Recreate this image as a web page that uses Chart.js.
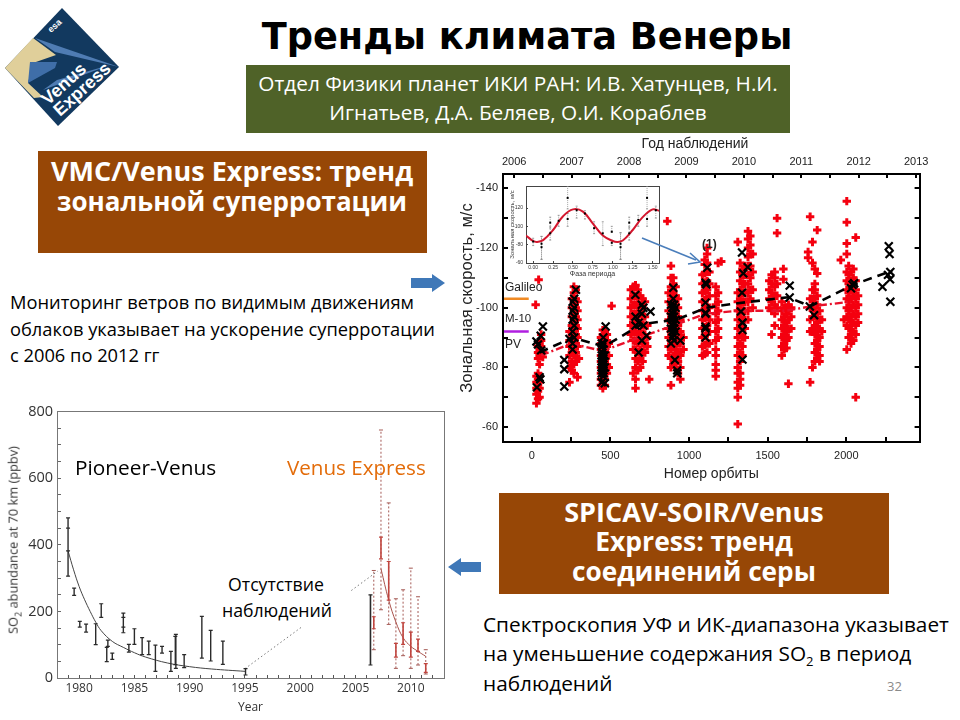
<!DOCTYPE html>
<html lang="ru">
<head>
<meta charset="utf-8">
<title>Тренды климата Венеры</title>
<script src="https://cdn.jsdelivr.net/npm/chart.js@4/dist/chart.umd.min.js"></script>
<style>
    html, body { margin: 0; padding: 0; background: #fff; }
    #slide { position: relative; width: 960px; height: 720px; overflow: hidden; font-family: "Open Sans", sans-serif; color: #000; }
    #slide canvas, #slide svg { position: absolute; }
    .line { position: absolute; white-space: nowrap; line-height: 1; }
    .box { position: absolute; }
    .mid { transform: translateX(-50%); }
    .turned { transform: translate(-50%, -50%) rotate(-90deg); }
    .brown { background: #974706; }
    .boxText { color: #fff; font-weight: 700; font-size: 27px; }
    .greenText { color: #fff; font-size: 20.8px; }
    .body { font-size: 18.3px; }
    .note { font-size: 20.8px; }
    .plotLabel { font-family: "Liberation Sans", sans-serif; font-size: 12px; color: #222; }
</style>
</head>
<body>
<div id="slide">
    <svg style="left:0;top:0" width="130" height="130" viewBox="0 0 130 130">
        <polygon points="5,68 62,8 119,67 58,126" fill="#12395f"/>
        <polygon points="5,68 33,38 56,55 33,63 28,83 43,97 34,98" fill="#e0cf9a"/>
        <polygon points="30,62 57,62 55,68 28,83" fill="#3f6ea8"/>
        <polygon points="35,38 119,67 55,52" fill="#4f7cb3"/>
        <polygon points="43,90 110,65 57,80" fill="#4f7cb3"/>
        <text transform="translate(51,33) rotate(-42)" font-family="Liberation Sans" font-weight="700" font-size="9" fill="#fff">esa</text>
        <text transform="translate(48,106) rotate(-42)" font-family="Liberation Sans" font-weight="700" font-size="18" fill="#fff">Venus</text>
        <text transform="translate(60,117) rotate(-42)" font-family="Liberation Sans" font-weight="700" font-size="18" fill="#fff">Express</text>
    </svg>

    <div class="line mid" style="left:527px;top:19px;font-family:'DejaVu Sans';font-weight:700;font-size:36.7px">Тренды климата Венеры</div>

    <div class="box" style="left:246px;top:65px;width:544px;height:68px;background:#4f6228"></div>
    <div class="line mid greenText" style="left:518px;top:73px">Отдел Физики планет ИКИ РАН: И.В. Хатунцев, Н.И.</div>
    <div class="line mid greenText" style="left:518px;top:102px">Игнатьев, Д.А. Беляев, О.И. Кораблев</div>

    <div class="box brown" style="left:38px;top:151px;width:389px;height:102px"></div>
    <div class="line mid boxText" style="left:232px;top:157px">VMC/Venus Express: тренд</div>
    <div class="line mid boxText" style="left:232px;top:188px;font-size:26px">зональной суперротации</div>

    <div class="box brown" style="left:499px;top:493px;width:390px;height:101px"></div>
    <div class="line mid boxText" style="left:694px;top:498px">SPICAV-SOIR/Venus</div>
    <div class="line mid boxText" style="left:694px;top:528px;font-size:26.5px">Express: тренд</div>
    <div class="line mid boxText" style="left:694px;top:558px;font-size:26.2px">соединений серы</div>

    <div class="line body" style="left:10px;top:293px">Мониторинг ветров по видимым движениям</div>
    <div class="line body" style="left:10px;top:320px">облаков указывает на ускорение суперротации</div>
    <div class="line body" style="left:10px;top:346px">с 2006 по 2012 гг</div>

    <div class="line note" style="left:483px;top:614px">Спектроскопия УФ и ИК-диапазона указывает</div>
    <div class="line note" style="left:483px;top:643px">на уменьшение содержания SO<sub style="font-size:13px;line-height:0">2</sub> в период</div>
    <div class="line note" style="left:483px;top:673px">наблюдений</div>
    <div class="line" style="left:887px;top:680px;font-size:13px;color:#8a8a8a">32</div>

    <!-- arrows between the panels -->
    <svg style="left:405px;top:268px" width="50" height="30">
        <polygon points="6,10 27,10 27,6 40,15 27,24 27,20 6,20" fill="#3f78b8"/>
    </svg>
    <svg style="left:440px;top:552px" width="50" height="30">
        <polygon points="41,10 21,10 21,6 8,15 21,24 21,20 41,20" fill="#3f78b8"/>
    </svg>

    <canvas id="so2Chart" width="445" height="320" style="left:5px;top:395px"></canvas>
    <div class="line turned" style="left:13px;top:540px;font-size:12.8px;color:#333">SO<sub style="font-size:9px;line-height:0">2</sub> abundance at 70 km (ppbv)</div>
    <div class="box" style="left:216px;top:569px;width:135px;height:58px;background:#fff"></div>
    <div class="line" style="left:75px;top:457px;font-size:20.8px">Pioneer-Venus</div>
    <div class="line" style="left:287px;top:457px;font-size:20.6px;color:#e36c0a">Venus Express</div>
    <div class="line mid" style="left:276px;top:576px;font-size:17.7px">Отсутствие</div>
    <div class="line mid" style="left:277px;top:602px;font-size:17.7px">наблюдений</div>

    <canvas id="windChart" width="480" height="348" style="left:458px;top:135px"></canvas>
    <div class="line mid" style="left:695px;top:136px;font-family:'Liberation Sans';font-size:14px;color:#222">Год наблюдений</div>
    <div class="line turned" style="left:467px;top:298px;font-family:'Liberation Sans';font-size:16.6px;color:#222">Зональная скорость, м/с</div>
    <canvas id="phaseChart" width="156" height="100" style="left:509px;top:178px"></canvas>
    <svg style="left:630px;top:225px" width="90" height="50">
        <line x1="12" y1="13" x2="66" y2="35" stroke="#4a7ebb" stroke-width="1.6"/>
        <polyline points="60,28 70,37 58,39" fill="none" stroke="#4a7ebb" stroke-width="1.6"/>
    </svg>
    <div class="line plotLabel" style="left:505px;top:281px">Galileo</div>
    <div class="line plotLabel" style="left:505px;top:313px;font-size:11.5px">M-10</div>
    <div class="line plotLabel" style="left:505px;top:338px">PV</div>
    <div class="line plotLabel" style="left:702px;top:238px;font-weight:700">(1)</div>
</div>

<script>
// SO2 abundance panel
const pvYears = [1979, 1979, 1979.55, 1980.06, 1980.63, 1981.5, 1982, 1982.5, 1982.6, 1983, 1984, 1984, 1984.5, 1985, 1985.7, 1986.3, 1986.9, 1987.5, 1988.3, 1988.7, 1988.75, 1989.5, 1991.1, 1991.9, 1993, 1995.05];
const pvHigh = [481, 450, 270, 170, 162, 163, 223, 92, 114, 75, 195, 182, 101, 148, 121, 111, 99, 95, 80, 125, 131, 70, 185, 143, 111, 28];
const pvLow = [306, 382, 248, 153, 138, 100, 182, 49, 95, 56, 136, 153, 78, 101, 70, 70, 20, 75, 20, 40, 29, 31, 60, 51, 41, 9];
const pvCurveYears = [1979, 1979.5, 1980, 1980.5, 1981, 1981.5, 1982, 1983, 1984, 1985, 1986, 1988, 1990, 1992, 1995];
const pvCurveValues = [382, 325, 275, 235, 200, 168, 142, 110, 92, 76, 63, 45, 34, 27, 20];
const gapYears = [1995, 2007];
const gapValues = [28, 321];

const blackBarYears = [2006.35];
const blackBarHigh = [250];
const blackBarLow = [39];
const vexYears = [2006.65, 2007.3, 2008, 2008.65, 2009.3, 2010, 2010.65, 2011.35];
const vexHigh = [184, 423, 350, 104, 166, 138, 117, 43];
const vexLow = [148, 358, 234, 63, 101, 63, 80, 17];
const vexRangeHigh = [323, 745, 526, 238, 265, 330, 244, 85];
const vexRangeLow = [85, 205, 161, 29, 67, 29, 39, 12];
const vexCurveYears = [2007.3, 2008, 2008.65, 2009.3, 2010, 2010.65, 2011.35];
const vexCurveValues = [328, 234, 168, 121, 95, 80, 65];

// Wind speed panel: red points are listed per orbit column
const redOrbits = [25, 44, 30, 40, 50, 60, 70,
    240, 255, 268, 280, 291, 300,
    440, 452, 465, 478, 490, 508,
    630, 645, 660, 675, 690, 705, 720, 735, 747,
    862, 870, 885, 900, 915, 930, 945, 965,
    1085, 1100, 1115, 1130, 1170, 1185, 1205,
    1310, 1325, 1340, 1355, 1375, 1390, 1405,
    1510, 1525, 1545, 1560, 1600,
    1590, 1605, 1620, 1632, 1650,
    1757, 1770, 1785, 1800, 1815, 1830, 1845,
    1965, 1985, 2003, 2015, 2030, 2045, 2060, 2075];
const redSpeeds = [
    [-101], [-109.4], [-68, -71, -73, -75, -77], [-69.5, -72, -74, -76, -78, -83, -85, -87], [-70, -73, -75, -77, -81, -84, -86, -88], [-84, -85.5, -87, -89, -91], [-83.5, -85],
    [-75, -80, -84, -87, -89, -92], [-79, -82, -85, -88, -91, -94, -97, -100, -103], [-78, -81, -84, -87, -90, -93, -96, -99, -102, -105, -107], [-82, -85, -88, -91, -94, -97, -100, -103, -106], [-76.7, -87, -90, -93, -96, -99, -102], [-83],
    [-74, -76, -78, -80, -82, -84, -86, -88, -90], [-73, -75, -77, -79, -81, -83, -85, -87, -89, -91, -92.5], [-74, -76, -78, -80, -82, -84, -86, -88, -90, -92], [-78, -81, -84, -87, -89, -91], [-80, -84, -88], [-100.6],
    [-91, -94, -97, -100, -103, -106], [-78, -86, -89, -92, -95, -98, -101, -104, -107], [-73, -76, -80, -83, -86, -89, -92, -95, -98, -101, -104, -107.5], [-79, -82, -85, -88, -91, -94, -97, -100, -103, -106], [-80, -83, -86, -89, -92, -95, -98, -101, -104], [-82, -85, -88, -91, -94, -97, -100, -103], [-85, -88, -91, -94, -97, -102], [-87, -90, -94], [-76],
    [-129], [-84, -87, -90, -93, -96, -99, -102, -105], [-74, -80, -83, -86, -89, -92, -95, -98, -101, -104, -107, -110, -114], [-81, -84, -87, -90, -93, -96, -99, -102, -105, -108, -110], [-80, -83, -86, -89, -92, -95, -98, -101, -104, -107], [-78, -82, -85, -88, -91, -94, -97, -100, -103], [-76, -80, -84, -88, -92, -96], [-86, -90],
    [-84, -87, -90, -93, -96, -99, -102, -105, -108, -111], [-84.5, -87.5, -90.5, -93.5, -96.5, -99.5, -102.5, -105.5, -108.5, -111.5, -114.5, -116], [-85, -88, -91, -94, -97, -100, -103, -106, -109, -112, -115, -118, -120], [-88, -92, -96, -100, -104, -108, -112], [-77, -79, -81, -84, -86, -89, -92, -95, -98, -101, -104, -107], [-90, -93, -96, -99, -102, -105, -115], [-115.5],
    [-61, -70, -73, -75, -78, -80, -84, -87, -90, -93, -96, -99, -102, -105, -122], [-74, -76, -78, -82, -85, -88, -91, -94, -97, -100, -103, -106, -109, -112, -115], [-84, -87, -90, -93, -96, -99, -102, -105, -108, -111, -113], [-90, -93, -96, -99, -102, -105, -108, -111, -114], [-96, -99, -102, -105, -108, -111, -114, -117, -120, -123, -125.6], [-103, -106, -110, -114, -118, -121, -124], [-100, -106, -112, -118],
    [-100, -103, -106, -109], [-91, -99, -102, -105, -108, -111], [-94, -98, -101, -104, -107, -110, -112], [-100, -104, -108, -125, -130], [-113, -109.5],
    [-84, -87, -90, -93, -96, -99, -102], [-86, -88, -91, -94, -97, -100], [-86.5, -89, -92, -95, -98, -100], [-74.5, -90, -93, -96, -99, -101], [-93, -97, -100],
    [-116.7, -118.7], [-75, -92, -96, -100, -103, -130.5], [-80, -93, -97, -100, -103, -106, -115, -122], [-82, -85, -88, -91, -94, -97, -100, -103, -106, -108, -113], [-83, -86, -89, -92, -95, -98, -101, -104, -111.5, -126], [-82, -84, -87, -90, -93, -96, -99], [-92, -96],
    [-116], [-96], [-86, -94, -97, -100, -103, -106, -109, -112, -118, -121.5, -128.6, -135.7], [-90, -93, -96, -99, -102, -105, -108, -111, -114], [-88, -91, -94, -97, -100, -103, -106, -109, -112], [-89, -92, -95, -98, -101, -104, -107, -110, -113], [-70, -91, -94, -97, -100, -103, -106, -109, -123.5], [-95, -98, -101, -104]
];
const blackOrbits = [30, 40, 57, 71, 60, 50, 55, 33,
    207, 207, 207, 240, 260, 260, 260, 260, 260, 260, 270, 270, 270, 270, 270, 281,
    445, 445, 445, 445, 445, 445, 455, 455, 455, 455, 455, 455, 465, 465, 465, 470,
    448, 448, 448, 448, 448, 458, 458, 458, 458, 458,
    660, 660, 659, 680, 680, 700, 700, 700, 730, 755, 710, 710,
    885, 885, 885, 885, 900, 900, 900, 900, 900, 915, 915, 915, 910, 925, 925, 945,
    895, 895, 895, 895, 895, 895, 905, 905, 905, 905, 905,
    1116, 1105, 1110, 1105, 1105, 1105, 1105, 1105, 1105,
    1337, 1345, 1373, 1337, 1330, 1340, 1340, 1340, 1340,
    1640, 1640, 1768, 1795, 2030, 2040, 2050,
    2270, 2275, 2280, 2278, 2280, 2230, 2265];
const blackSpeeds = [-88.7, -87.7, -90.6, -93.7, -85.7, -76.7, -76, -73.3,
    -82.5, -79.4, -73.6, -89.5, -88, -86, -92, -96, -99, -102, -90, -94, -97, -100, -103, -106,
    -88, -84, -82, -80, -78, -75, -90, -86, -83, -81, -79, -77, -80, -84, -74.7, -93.7,
    -85, -83, -81, -79, -87, -88, -84, -82, -80, -78,
    -94, -97, -104.3, -85, -95, -89, -98, -101, -90.6, -98.7, -94, -100,
    -88, -93, -97, -101, -91, -95, -99, -103, -106.7, -92, -96, -100, -82.5, -79, -78, -89,
    -90, -94, -98, -100, -92, -96, -89, -93, -97, -101, -95,
    -113.4, -108.4, -107.8, -101.7, -98.3, -93.6, -98, -93, -90,
    -118.5, -111.5, -113.6, -105, -98.7, -95, -95, -92.5, -82.6,
    -107.4, -103.4, -100.4, -97.5, -106.5, -107.7, -108.2,
    -120.6, -118, -112, -109.5, -102, -107, -111];
const blackLineOrbits = [50, 260, 460, 700, 920, 1110, 1310, 1630, 1770, 2045, 2270];
const blackLineSpeeds = [-85, -90, -87, -94.5, -96, -100, -101.5, -103.5, -100.5, -107.7, -112];
const redLineOrbits = [60, 250, 450, 680, 900, 1110, 1320, 1620, 1780, 2030];
const redLineSpeeds = [-84, -88, -85.5, -90, -94, -98, -99, -99, -100.5, -102];
const refOrbits = [-176, -19];
const galileoSpeed = [-103, -103];
const pvSpeed = [-92, -92];

// Inset: folded speed against phase
const phaseX = [0, 0.105, 0.105, 0.214, 0.214, 0.32, 0.433, 0.433, 0.546, 0.65, 0.765, 0.874, 0.987, 0.987, 1.097, 1.097, 1.206, 1.206, 1.32, 1.43, 1.43, 1.54];
const phaseY = [-83.4, -77.3, -81, -104, -92.4, -106, -131, -108, -117.6, -114, -98, -92.4, -94, -82, -81, -77.3, -104, -92.4, -107, -131, -108, -117.6];
const phaseHigh = [-87, -89, -89, -110, -100, -112, -144, -114, -122, -117, -105, -105, -100, -85, -93, -93, -110, -100, -112, -144, -114, -122];
const phaseLow = [-79, -64, -64, -98, -85, -100, -119, -100, -109, -108, -92, -79, -95, -79, -64, -64, -98, -85, -100, -119, -100, -109];
const phaseCurveX = [-0.09, 0, 0.05, 0.125, 0.25, 0.375, 0.5, 0.625, 0.75, 0.875, 1, 1.06, 1.125, 1.25, 1.375, 1.5, 1.58];
const phaseCurveY = [-90, -84, -83, -85, -96, -111, -118.5, -116, -103, -90, -84, -83, -84.5, -96, -110, -118.5, -117];

// Turn parallel x/y lists into {x, y} points
function toPoints(xs, ys) {
    return xs.map((x, i) => ({ x: x, y: ys[i] }));
}

// Error bars as one broken line: low, high, gap, low, high, gap...
function toBars(xs, low, high) {
    const points = [];
    xs.forEach((x, i) => {
        points.push({ x: x, y: low[i] }, { x: x, y: high[i] }, { x: null, y: null });
    });
    return points;
}

function barDataset(points, color, width, dash, capSize) {
    return {
        type: 'scatter',
        data: points,
        showLine: true,
        spanGaps: false,
        borderColor: color,
        borderWidth: width,
        borderDash: dash || [],
        pointStyle: 'line',
        pointRadius: capSize,
        pointBorderColor: color,
        pointBorderWidth: Math.min(width, 1.2)
    };
}

function lineDataset(points, color, width, dash, tension) {
    return {
        type: 'scatter',
        data: points,
        showLine: true,
        borderColor: color,
        borderWidth: width,
        borderDash: dash || [],
        tension: tension || 0,
        pointRadius: 0
    };
}

// Axis that only draws a frame side, no labels and no ticks
function frameAxis(position, min, max, color, width, size) {
    return {
        position: position,
        min: min,
        max: max,
        border: { color: color, width: width },
        grid: { drawOnChartArea: false, drawTicks: false },
        ticks: { display: false },
        afterFit: (scale) => {
            if (position === 'top' || position === 'bottom') {
                scale.height = size;
            } else {
                scale.width = size;
            }
        }
    };
}

const noAnimation = { responsive: false, animation: false, events: [], plugins: { legend: { display: false }, tooltip: { enabled: false } } };

new Chart(document.getElementById('so2Chart').getContext('2d'), {
    data: {
        datasets: [
            barDataset(toBars(pvYears, pvLow, pvHigh), '#2b2b2b', 1.4, null, 2),
            barDataset(toBars(blackBarYears, blackBarLow, blackBarHigh), '#2b2b2b', 1.6, null, 2),
            barDataset(toBars(vexYears, vexLow, vexHigh), '#c0453f', 1.6, null, 2),
            lineDataset(toPoints(pvCurveYears, pvCurveValues), '#444', 1, null, 0.4),
            lineDataset(toPoints(vexCurveYears, vexCurveValues), '#a9524c', 1, null, 0.4),
            lineDataset(toPoints(gapYears, gapValues), '#777', 1, [1.5, 2.5]),
            barDataset(toBars(vexYears, vexRangeLow, vexRangeHigh), '#a55a55', 1, [2, 2], 2)
        ]
    },
    options: {
        ...noAnimation,
        scales: {
            x: {
                type: 'linear',
                position: 'bottom',
                min: 1978,
                max: 2013,
                afterFit: (scale) => { scale.height = 37; },
                border: { color: '#777', width: 1 },
                grid: { drawOnChartArea: false, tickLength: -3, color: '#555' },
                title: { display: true, text: 'Year', color: '#333', font: { family: 'Open Sans', size: 12 }, padding: 0 },
                ticks: {
                    stepSize: 1,
                    autoSkip: false,
                    maxRotation: 0,
                    padding: 6,
                    color: '#333',
                    font: { family: 'Open Sans', size: 12 },
                    callback: (v) => (v % 5 === 0 ? String(v) : '')
                }
            },
            y: {
                position: 'left',
                min: 0,
                max: 800,
                afterFit: (scale) => { scale.width = 52; },
                border: { color: '#777', width: 1 },
                grid: { drawOnChartArea: false, tickLength: -4, color: '#666' },
                ticks: {
                    stepSize: 50,
                    autoSkip: false,
                    padding: 8,
                    color: '#333',
                    font: { family: 'Open Sans', size: 14.5 },
                    callback: (v) => (v % 200 === 0 ? String(v) : '')
                }
            },
            xTop: frameAxis('top', 1978, 2013, '#777', 1, 9),
            yRight: frameAxis('right', 0, 800, '#777', 1, 6)
        }
    }
});

const redPoints = [];
redOrbits.forEach((orbit, i) => {
    redSpeeds[i].forEach((speed) => redPoints.push({ x: orbit, y: speed }));
});

new Chart(document.getElementById('windChart').getContext('2d'), {
    data: {
        datasets: [
            { type: 'scatter', data: toPoints(blackOrbits, blackSpeeds), pointStyle: 'crossRot', pointRadius: 5.6, pointBorderWidth: 2.2, pointBorderColor: '#000' },
            lineDataset(toPoints(blackLineOrbits, blackLineSpeeds), '#000', 2.6, [9, 6]),
            lineDataset(toPoints(redLineOrbits, redLineSpeeds), '#e8102a', 2.4, [8, 3, 2, 3]),
            { type: 'scatter', data: redPoints, pointStyle: 'cross', pointRadius: 4.2, pointBorderWidth: 3, pointBorderColor: '#f4000f' },
            lineDataset(toPoints(refOrbits, galileoSpeed), '#f08a24', 2.5),
            lineDataset(toPoints(refOrbits, pvSpeed), '#b01fe0', 2.5)
        ]
    },
    options: {
        ...noAnimation,
        scales: {
            x: {
                type: 'linear',
                position: 'bottom',
                min: -182.6,
                max: 2466,
                afterFit: (scale) => { scale.height = 41; },
                border: { color: '#000', width: 2 },
                grid: { drawOnChartArea: false, tickLength: -5, color: '#000', lineWidth: 2 },
                title: { display: true, text: 'Номер орбиты', color: '#222', font: { family: 'Liberation Sans', size: 14 }, padding: 0 },
                ticks: {
                    stepSize: 250,
                    includeBounds: false,
                    autoSkip: false,
                    maxRotation: 0,
                    padding: 12,
                    color: '#222',
                    font: { family: 'Liberation Sans', size: 11 },
                    callback: (v) => (v % 500 === 0 ? String(v) : '')
                }
            },
            yearAxis: {
                type: 'linear',
                position: 'top',
                min: 2005.805,
                max: 2013.06,
                afterFit: (scale) => { scale.height = 39; },
                border: { color: '#000', width: 2 },
                grid: { drawOnChartArea: false, tickLength: -4, color: '#000', lineWidth: 2 },
                ticks: {
                    stepSize: 0.5,
                    includeBounds: false,
                    autoSkip: false,
                    maxRotation: 0,
                    padding: 9.5,
                    color: '#222',
                    font: { family: 'Liberation Sans', size: 11 },
                    callback: (v) => (Number.isInteger(v) ? String(v) : '')
                }
            },
            y: {
                position: 'left',
                reverse: true,
                min: -144.8,
                max: -55,
                afterFit: (scale) => { scale.width = 45; },
                border: { color: '#000', width: 2 },
                grid: { drawOnChartArea: false, tickLength: -5, color: '#000', lineWidth: 2 },
                ticks: {
                    stepSize: 10,
                    includeBounds: false,
                    autoSkip: false,
                    padding: 10,
                    color: '#222',
                    font: { family: 'Liberation Sans', size: 11 },
                    callback: (v) => (v % 20 === 0 ? String(v) : '')
                }
            },
            yRight: {
                position: 'right',
                reverse: true,
                min: -144.8,
                max: -55,
                afterFit: (scale) => { scale.width = 14; },
                border: { color: '#000', width: 2 },
                grid: { drawOnChartArea: false, tickLength: -5, color: '#000', lineWidth: 2 },
                ticks: { stepSize: 10, includeBounds: false, autoSkip: false, padding: 10, callback: () => '' }
            }
        }
    }
});

new Chart(document.getElementById('phaseChart').getContext('2d'), {
    data: {
        datasets: [
            { type: 'scatter', data: toPoints(phaseX, phaseY), pointStyle: 'rect', pointRadius: 1.4, pointBackgroundColor: '#000', pointBorderColor: '#000', pointBorderWidth: 0 },
            lineDataset(toPoints(phaseCurveX, phaseCurveY), '#d4172e', 2, null, 0.4),
            barDataset(toBars(phaseX, phaseLow, phaseHigh), '#8a8a8a', 0.8, [1, 1], 1)
        ]
    },
    options: {
        ...noAnimation,
        scales: {
            x: {
                type: 'linear',
                position: 'bottom',
                min: -0.09,
                max: 1.58,
                afterFit: (scale) => { scale.height = 15; },
                border: { color: '#444', width: 1 },
                grid: { drawOnChartArea: false, tickLength: -2, color: '#444' },
                title: { display: true, text: 'Фаза периода', color: '#333', font: { family: 'Liberation Sans', size: 7 }, padding: 0 },
                ticks: {
                    stepSize: 0.25,
                    includeBounds: false,
                    autoSkip: false,
                    maxRotation: 0,
                    padding: 4,
                    color: '#333',
                    font: { family: 'Liberation Sans', size: 5 },
                    callback: (v) => v.toFixed(2)
                }
            },
            y: {
                position: 'left',
                reverse: true,
                min: -144,
                max: -60,
                afterFit: (scale) => { scale.width = 17; },
                border: { color: '#444', width: 1 },
                grid: { drawOnChartArea: false, tickLength: -2, color: '#444' },
                title: { display: true, text: 'Зональная скорость, м/с', color: '#333', font: { family: 'Liberation Sans', size: 6 }, padding: 0 },
                ticks: {
                    stepSize: 20,
                    autoSkip: false,
                    padding: 5,
                    color: '#333',
                    font: { family: 'Liberation Sans', size: 5 },
                    callback: (v) => (v % 20 === 0 ? String(v) : '')
                }
            },
            xTop: frameAxis('top', -0.09, 1.58, '#444', 1, 8),
            yRight: frameAxis('right', -144, -60, '#444', 1, 6)
        }
    }
});
</script>
</body>
</html>
